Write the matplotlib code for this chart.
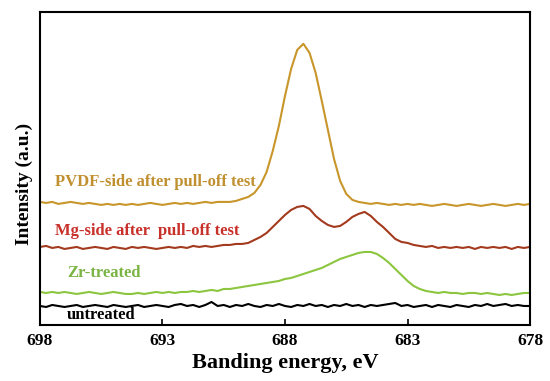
import numpy as np
import matplotlib
matplotlib.use("Agg")
import matplotlib.pyplot as plt

# binding energy grid (eV), 698 -> 678 in 0.25 eV steps
energy = np.linspace(698, 678, 81)

pvdf_side = [123, 122, 123, 121, 122, 123, 122, 121, 122, 121,
             120, 121, 120, 121, 120, 121, 120, 121, 122, 121,
             120, 121, 122, 121, 122, 121, 122, 123, 122, 123,
             123, 123, 124, 126, 128, 132, 140, 153, 174, 199,
             229, 256, 275, 281, 272, 252, 224, 195, 166, 144,
             131, 125, 123, 122, 121, 122, 121, 120, 121, 120,
             121, 120, 121, 120, 119, 120, 121, 120, 119, 120,
             121, 120, 119, 120, 121, 120, 119, 120, 121, 120,
             121]

mg_side = [78, 79, 77, 78, 76, 77, 78, 76, 77, 78,
           77, 76, 78, 77, 76, 78, 77, 78, 77, 76,
           77, 78, 77, 78, 77, 79, 78, 79, 78, 79,
           80, 80, 81, 81, 82, 85, 88, 92, 98, 104,
           110, 115, 118, 119, 116, 109, 104, 100, 98, 99,
           103, 108, 111, 113, 109, 103, 98, 92, 86, 83,
           82, 80, 79, 78, 79, 77, 78, 77, 78, 77,
           78, 76, 78, 77, 78, 77, 78, 76, 78, 77,
           78]

zr_treated = [33, 32, 33, 32, 33, 32, 31, 32, 33, 32,
              31, 32, 33, 32, 31, 31, 32, 31, 32, 33,
              32, 33, 32, 33, 33, 34, 33, 34, 35, 34,
              36, 36, 37, 38, 39, 40, 41, 42, 43, 44,
              46, 47, 49, 51, 53, 55, 57, 60, 63, 66,
              68, 70, 72, 73, 73, 71, 67, 62, 56, 50,
              44, 39, 36, 34, 33, 32, 33, 32, 32, 31,
              32, 32, 31, 32, 31, 30, 31, 30, 31, 32,
              32]

untreated = [19, 18, 20, 19, 18, 19, 20, 18, 19, 20,
             19, 18, 20, 19, 18, 19, 20, 18, 19, 20,
             19, 18, 20, 21, 19, 20, 18, 20, 23, 19,
             20, 18, 20, 19, 21, 19, 18, 20, 19, 21,
             19, 18, 20, 19, 21, 19, 20, 18, 20, 19,
             21, 19, 20, 18, 20, 19, 20, 21, 22, 19,
             20, 18, 19, 20, 18, 20, 19, 18, 20, 19,
             18, 20, 19, 21, 19, 20, 21, 19, 20, 19,
             19]

xticks = [698, 693, 688, 683, 678]

plt.rcParams['font.family'] = ['Liberation Serif', 'DejaVu Serif']

fig = plt.figure(figsize=(5.5, 3.81), dpi=100)
ax = fig.add_axes([0.0727, 0.147, 0.891, 0.822])

ax.plot(energy, pvdf_side, color='#c8962a', lw=1.5)
ax.plot(energy, mg_side, color='#a33a1e', lw=1.5)
ax.plot(energy, zr_treated, color='#8cc63f', lw=1.5)
ax.plot(energy, untreated, color='black', lw=1.5)

lab = dict(fontsize=12, fontweight='bold', ha='left', va='center')
ax.text(697.39, 143, 'PVDF-side after pull-off test', color='#c09030', **lab)
ax.text(697.39, 94, 'Mg-side after  pull-off test', color='#c8302a', **lab)
ax.text(696.9, 52, 'Zr-treated', color='#7ab443', **lab)
ax.text(696.9, 10, 'untreated', color='black', **lab)

ax.set_xlim(698, 678)
ax.set_ylim(0, 313)
ax.set_xticks(xticks)
ax.set_xticklabels([str(t) for t in xticks], fontsize=12.5, fontweight='bold')
ax.set_yticks([])
ax.tick_params(axis='x', direction='in', length=4, width=1.2, pad=6)
for s in ax.spines.values():
    s.set_linewidth(1.5)

ax.set_xlabel('Banding energy, eV', fontsize=16, fontweight='bold', labelpad=3)
ax.set_ylabel('Intensity (a.u.)', fontsize=14, fontweight='bold', labelpad=5,
              y=0.45)

fig.savefig('out.png', dpi=100)
